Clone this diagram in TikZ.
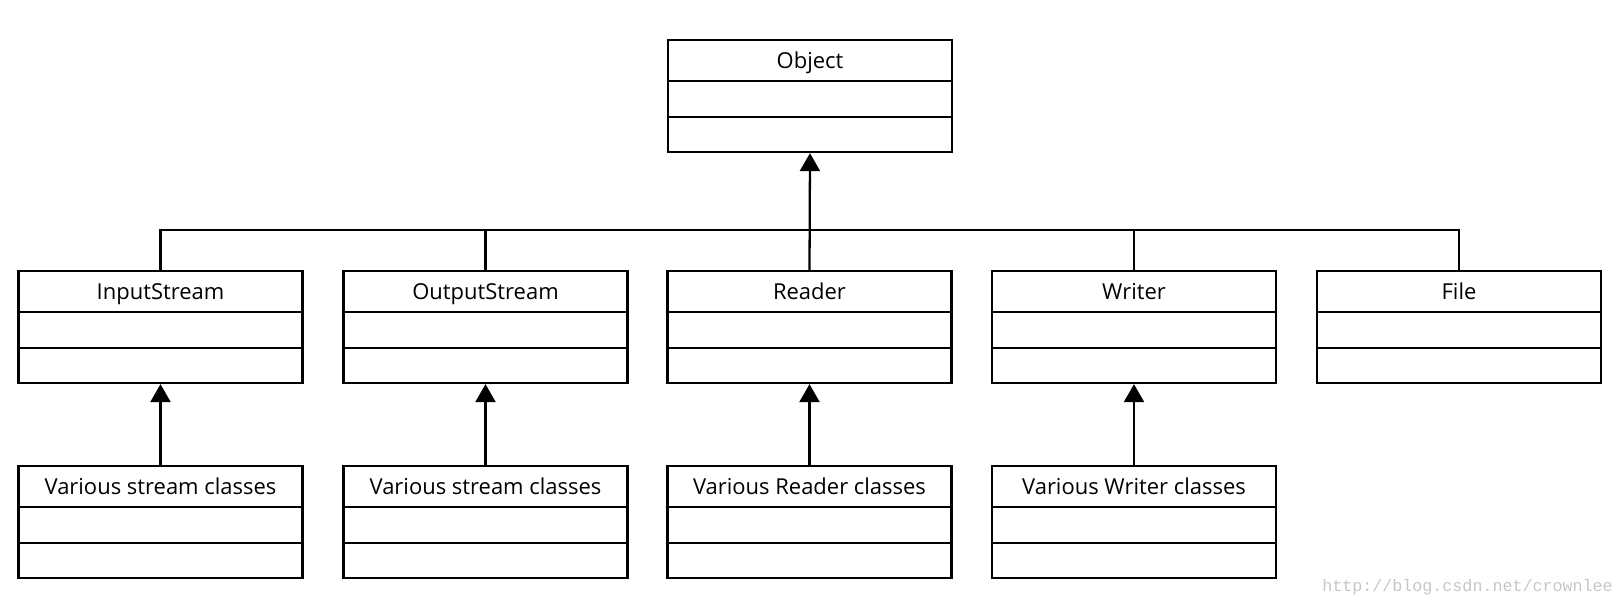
\documentclass[tikz,border=0pt]{standalone}
\usepackage{fontspec}
\setmainfont{Open Sans}
\setmonofont{Liberation Mono}
\usetikzlibrary{arrows.meta,calc}
\tikzset{
	classbox/.style={
			draw, line width=1.3pt, rectangle, minimum width=5.68cm,
			inner xsep=0pt, inner ysep=0pt,
			text height=0.56cm, text depth=1.68cm,
			font=\fontsize{12.5}{14}\selectfont,
			path picture={
					\draw[line width=1.3pt] ([yshift=-0.82cm]path picture bounding box.north west) -- ([yshift=-0.82cm]path picture bounding box.north east);
					\draw[line width=1.3pt] ([yshift=-1.54cm]path picture bounding box.north west) -- ([yshift=-1.54cm]path picture bounding box.north east);
				}
		},
	inherit/.style={line width=1.3pt, -{Triangle[length=0.36cm,width=0.4cm]}},
	bus/.style={line width=1.3pt}
}

\begin{document}
\begin{tikzpicture}
		\useasboundingbox (0,0) rectangle (32.48,-12.12);
		\node[classbox] (obj) at (16.2,-1.92) {Object};
		\node[classbox] (instream) at (3.21,-6.54) {InputStream};
		\node[classbox] (outstream) at (9.71,-6.54) {OutputStream};
		\node[classbox] (reader) at (16.19,-6.54) {Reader};
		\node[classbox] (writer) at (22.68,-6.54) {Writer};
		\node[classbox] (file) at (29.18,-6.54) {File};
		\node[classbox] (instreams) at (3.21,-10.44) {Various stream classes};
		\node[classbox] (outstreams) at (9.71,-10.44) {Various stream classes};
		\node[classbox] (readers) at (16.19,-10.44) {Various Reader classes};
		\node[classbox] (writers) at (22.68,-10.44) {Various Writer classes};
		\draw[bus] (instream.north) -- ++(0,0.8) coordinate (busL) -| (file.north);
		\draw[bus] (outstream.north) -- (outstream.north |- busL);
		\draw[bus] (writer.north) -- (writer.north |- busL);
		\draw[inherit] (reader.north) -- (obj.south);
		\draw[inherit] (instreams.north) -- (instream.south);
		\draw[inherit] (outstreams.north) -- (outstream.south);
		\draw[inherit] (readers.north) -- (reader.south);
		\draw[inherit] (writers.north) -- (writer.south);
		\node[text=gray!45, font=\ttfamily\fontsize{9.5}{11}\selectfont] (mark) at (29.35,-11.74) {http://blog.csdn.net/crownlee};
	\end{tikzpicture}
\end{document}
